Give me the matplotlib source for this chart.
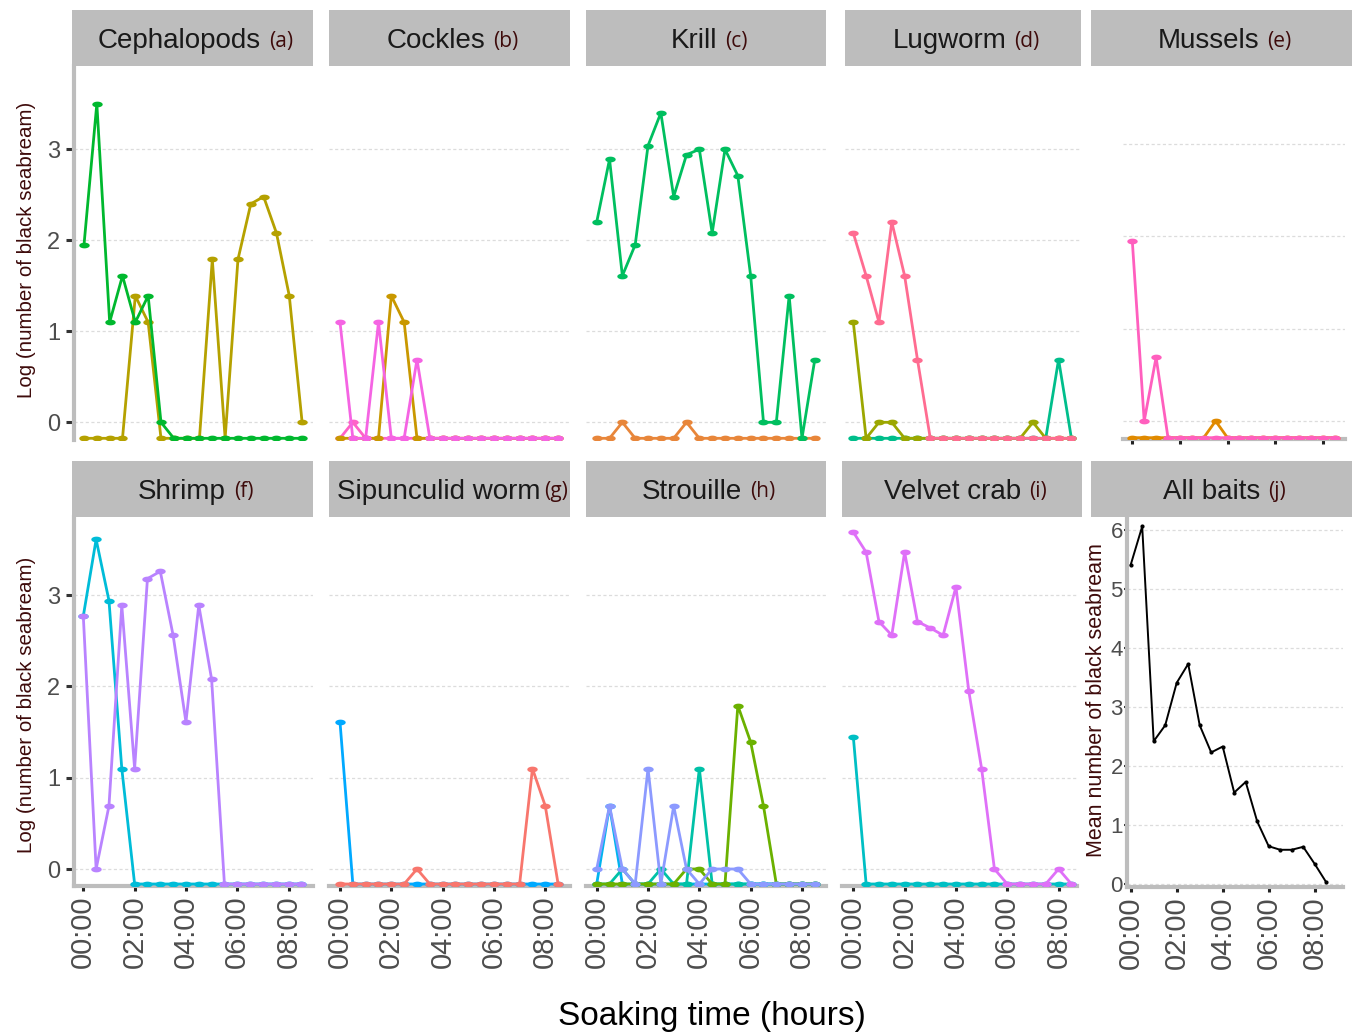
import numpy as np
import matplotlib
matplotlib.use("Agg")
import matplotlib.pyplot as plt
from matplotlib.path import Path
from matplotlib.patches import Rectangle

W, H = 1352, 1036
fig = plt.figure(figsize=(W / 100, H / 100), dpi=100)
plt.rcParams['font.family'] = ['Liberation Sans', 'DejaVu Sans']

# ---------------- data ----------------
hours = np.arange(18) * 0.5
xticks = [0, 2, 4, 6, 8]
xticklabels = ["00:00", "02:00", "04:00", "06:00", "08:00"]
N = None  # no fish caught: log undefined, drawn on the panel floor

cephalopods_1 = [1.95, 3.50, 1.10, 1.61, 1.10, 1.39, 0.00] + [N] * 11
cephalopods_2 = [N, N, N, N, 1.39, 1.10, N, N, N, N, 1.79, N, 1.79, 2.40, 2.48, 2.08, 1.39, 0.00]

cockles_1 = [1.10, N, N, 1.10, N, N, 0.69] + [N] * 11
cockles_2 = [N, 0.00] + [N] * 16
cockles_3 = [N, N, N, N, 1.39, 1.10] + [N] * 12

krill_1 = [2.20, 2.89, 1.61, 1.95, 3.04, 3.40, 2.48, 2.94, 3.00, 2.08, 3.00, 2.71, 1.61, 0.00, 0.00, 1.39, N, 0.69]
krill_2 = [N, N, 0.00, N, N, N, N, 0.00] + [N] * 10

lugworm_1 = [2.08, 1.61, 1.10, 2.20, 1.61, 0.69] + [N] * 12
lugworm_2 = [1.10, N, 0.00, 0.00, N, N, N, N, N, N, N, N, N, N, 0.00, N, N, N]
lugworm_3 = [N] * 16 + [0.69, N]

mussels_1 = [1.95, 0.00, 0.69] + [N] * 15
mussels_2 = [N] * 7 + [0.00] + [N] * 10

shrimp_1 = [2.77, 3.61, 2.94, 1.10] + [N] * 14
shrimp_2 = [2.77, 0.00, 0.69, 2.89, 1.10, 3.18, 3.26, 2.56, 1.61, 2.89, 2.08] + [N] * 7

sipunculid_1 = [1.61] + [N] * 17
sipunculid_2 = [N] * 6 + [0.00] + [N] * 8 + [1.10, 0.69, N]

strouille_1 = [0.00, 0.69, 0.00, N, 1.10, N, 0.69, 0.00, N, 0.00, 0.00, 0.00] + [N] * 6
strouille_2 = [N, 0.69] + [N] * 16
strouille_3 = [N, N, 0.00, N, N, 0.00, N, N, 1.10] + [N] * 9
strouille_4 = [N] * 7 + [0.00, 0.00, N, N, 1.79, 1.39, 0.69] + [N] * 4

velvet_1 = [3.69, 3.47, 2.71, 2.56, 3.47, 2.71, 2.64, 2.56, 3.09, 1.95, 1.10, 0.00, N, N, N, N, 0.00, N]
velvet_2 = [1.45] + [N] * 17

all_baits_mean = [5.41, 6.06, 2.42, 2.69, 3.41, 3.73, 2.69, 2.23, 2.33, 1.55, 1.73, 1.06,
                  0.64, 0.58, 0.58, 0.63, 0.34, 0.03]

bait_names = ["Cephalopods", "Cockles", "Krill", "Lugworm", "Mussels",
              "Shrimp", "Sipunculid worm", "Strouille", "Velvet crab", "All baits"]
bait_letters = ["(a)", "(b)", "(c)", "(d)", "(e)", "(f)", "(g)", "(h)", "(i)", "(j)"]

panel_series = [
    [(cephalopods_2, "#B5A100"), (cephalopods_1, "#00B82E")],
    [(cockles_2, "#FF62C8"), (cockles_3, "#C99800"), (cockles_1, "#F564E3")],
    [(krill_2, "#E8863A"), (krill_1, "#00BF5F")],
    [(lugworm_3, "#00BE8B"), (lugworm_2, "#9CA700"), (lugworm_1, "#FF6C91")],
    [(mussels_2, "#E08A00"), (mussels_1, "#FF5FBE")],
    [(shrimp_1, "#00BCD8"), (shrimp_2, "#B983FF")],
    [(sipunculid_1, "#00A9FF"), (sipunculid_2, "#F8766D")],
    [(strouille_2, "#00B4EF"), (strouille_3, "#00C1A7"), (strouille_4, "#6BB100"), (strouille_1, "#8C9AFF")],
    [(velvet_2, "#00BFC4"), (velvet_1, "#DF70F8")],
]

# ---------------- layout (pixels) ----------------
# L, R, T, B, x of first point, px per hour, y pixel of value 0, px per unit, floor pixel
layout = [
    (74, 313, 66, 440, 84.0, 25.66, 422.3, 91.0, 438.3),
    (329, 570, 66, 440, 340.0, 25.66, 422.3, 91.0, 438.3),
    (586, 826, 66, 440, 596.7, 25.66, 422.3, 91.0, 438.3),
    (845, 1081, 66, 440, 853.3, 25.66, 422.3, 91.0, 438.3),
    (1123, 1345, 70, 439.3, 1132.3, 23.8, 421.0, 92.3, 437.7),
    (74, 313, 517, 886, 83.3, 25.66, 869.0, 91.3, 884.0),
    (329, 570, 517, 886, 340.0, 25.66, 869.0, 91.3, 884.0),
    (586, 826, 517, 886, 596.7, 25.66, 869.0, 91.3, 884.0),
    (842, 1077, 517, 886, 853.3, 25.66, 869.0, 91.3, 884.0),
    (1127, 1343, 517, 887, 1130.7, 23.0, 884.0, 59.0, None),
]
strips = [
    (72, 313, 10, 66), (329, 570, 10, 66), (586, 826, 10, 66), (845, 1081, 10, 66), (1091, 1352, 10, 66),
    (72, 313, 461, 517), (329, 570, 461, 517), (586, 826, 461, 517), (842, 1082, 461, 517), (1091, 1352, 461, 517),
]

theta = np.linspace(0, 2 * np.pi, 41)
ellipse = Path(np.column_stack([np.cos(theta), 0.55 * np.sin(theta)]))

GRID = "#DCDCDC"
SPINE = "#BDBDBD"
TICKC = "#333333"
LABC = "#4D4D4D"
MAROON = "#3E0B0B"


def px_rect(l, r, t, b):
    return [l / W, 1 - b / H, (r - l) / W, (b - t) / H]


axes = []
for i, (L, R, T, B, x0, pxh, y0, pxu, fl) in enumerate(layout):
    ax = fig.add_axes(px_rect(L, R, T, B))
    ax.set_xlim((L - x0) / pxh, (R - x0) / pxh)
    ax.set_ylim((y0 - B) / pxu, (y0 - T) / pxu)
    for s in ax.spines.values():
        s.set_visible(False)
    ax.set_facecolor("none")
    if i < 9:
        floor = (y0 - fl) / pxu
        ax.set_yticks([0, 1, 2, 3])
        for (vals, col) in panel_series[i]:
            y = np.array([floor if v is None else v for v in vals], dtype=float)
            ax.plot(hours, y, color=col, lw=2.0, marker=ellipse, ms=7.5,
                    markeredgewidth=0, zorder=3)
    else:
        ax.plot(hours, all_baits_mean, color="black", lw=1.4, marker="o", ms=2, zorder=3)
        ax.set_yticks([0, 1, 2, 3, 4, 5, 6])
    ax.yaxis.grid(True, color=GRID, lw=0.9, linestyle=(0, (2.5, 2)))
    ax.set_axisbelow(True)
    ax.set_xticks(xticks)
    ax.set_xticklabels(xticklabels)

    left_axis = i in (0, 5, 9)
    bottom_axis = i >= 4
    if left_axis:
        ax.spines["left"].set_visible(True)
        ax.spines["left"].set_color(SPINE)
        ax.spines["left"].set_linewidth(3)
        if i == 9:
            ax.tick_params(axis="y", length=2, width=1.5, color=TICKC, labelcolor=LABC,
                           labelsize=16, pad=1)
        else:
            ax.tick_params(axis="y", length=6, width=2.2, color=TICKC, labelcolor=LABC,
                           labelsize=17, pad=4)
    else:
        ax.tick_params(axis="y", length=0, labelleft=False)
    if bottom_axis:
        ax.spines["bottom"].set_visible(True)
        ax.spines["bottom"].set_color(SPINE)
        ax.spines["bottom"].set_linewidth(3)
        ax.tick_params(axis="x", length=3.5, width=2.2, color="#222222")
        if i >= 5:
            ax.tick_params(axis="x", labelcolor=LABC, labelsize=21, labelrotation=90, pad=3)
        else:
            ax.tick_params(axis="x", labelbottom=False)
    else:
        ax.tick_params(axis="x", length=0, labelbottom=False)
    axes.append(ax)

# strips
renderer = fig.canvas.get_renderer()
for i, (l, r, t, b) in enumerate(strips):
    fig.patches.append(Rectangle((l / W, 1 - b / H), (r - l) / W, (b - t) / H,
                                 transform=fig.transFigure, facecolor="#BDBDBD",
                                 edgecolor="none", zorder=0))
    cy = 1 - ((t + b) / 2 + 3) / H
    t1 = fig.text(0, cy, bait_names[i], fontsize=20, color="#1A1A1A", va="center", ha="left")
    t2 = fig.text(0, cy, bait_letters[i], fontsize=15, color=MAROON, va="center", ha="left",
                  family=["Open Sans", "DejaVu Sans"])
    w1 = t1.get_window_extent(renderer).width
    w2 = t2.get_window_extent(renderer).width
    gap = 8 if i != 6 else 3
    total = w1 + gap + w2
    start = (l + r) / 2 - total / 2 + 3
    t1.set_x(start / W)
    t2.set_x((start + w1 + gap) / W)

# axis labels
fig.text(27 / W, 1 - 250 / H, "Log (number of black seabream)", rotation=90, fontsize=14.8,
         color=MAROON, ha="center", va="center")
fig.text(27 / W, 1 - 705 / H, "Log (number of black seabream)", rotation=90, fontsize=14.8,
         color=MAROON, ha="center", va="center")
fig.text(1097 / W, 1 - 700 / H, "Mean number of black seabream", rotation=90, fontsize=15.5,
         color=MAROON, ha="center", va="center")
fig.text(712 / W, 1 - 1017 / H, "Soaking time (hours)", fontsize=24, color="black",
         ha="center", va="center")

fig.savefig("out.png", dpi=100, facecolor="white")
